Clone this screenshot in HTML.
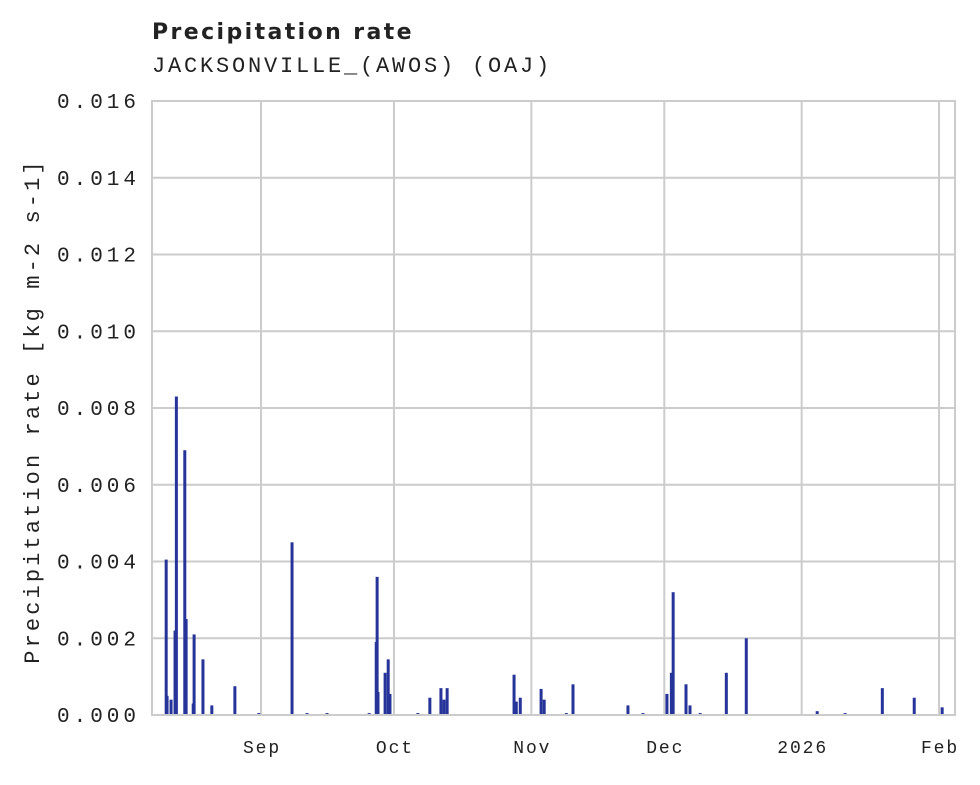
<!DOCTYPE html>
<html><head><meta charset="utf-8"><style>
body{margin:0;background:#fff;}
svg text{fill:#222;}
</style></head><body>
<svg id="chart" width="980" height="780" xmlns="http://www.w3.org/2000/svg">
<text x="152" y="39" font-family="DejaVu Sans, Liberation Sans, sans-serif" font-weight="bold" font-size="22" letter-spacing="2.4">Precipitation rate</text>
<text x="152" y="72" font-family="Liberation Mono, monospace" font-size="22" letter-spacing="2.8">JACKSONVILLE_(AWOS) (OAJ)</text>
<text transform="translate(39,411) rotate(-90)" text-anchor="middle" font-family="Liberation Mono, monospace" font-size="22" letter-spacing="3.1">Precipitation rate [kg m-2 s-1]</text>
<g id="grid"></g><g id="bars"></g><g id="ticks"></g>
<rect x="152" y="101" width="803" height="614" fill="none" stroke="#ccc" stroke-width="2"/>
</svg>
<script>
const xMin=-24.6, xMax=156.6, yMax=0.016;
const yTicks=[0,0.002,0.004,0.006,0.008,0.010,0.012,0.014,0.016];
const yTickLabels=["0.000","0.002","0.004","0.006","0.008","0.010","0.012","0.014","0.016"];
const xTicks=[0,30,61,91,122,153];
const xTickLabels=["Sep","Oct","Nov","Dec","2026","Feb"];
const days=[-21.4,-21.2,-20.3,-19.4,-19.1,-17.2,-16.9,-15.3,-15.1,-13.1,-11.1,-5.9,-0.5,7.0,10.4,14.9,24.4,26.0,26.2,26.4,28.0,28.7,29.1,35.4,38.1,40.6,41.3,42.0,57.1,57.6,58.5,63.2,63.9,68.9,70.4,82.8,86.2,91.6,92.6,93.0,95.9,96.8,99.1,105.0,109.5,125.5,131.8,140.2,147.4,153.7];
const rates=[0.00405,0.0005,0.0004,0.0022,0.0083,0.0069,0.0025,0.0003,0.0021,0.00145,0.00025,0.00075,0.00005,0.0045,0.00005,0.00005,0.00005,0.0019,0.0036,0.0006,0.0011,0.00145,0.00055,0.00005,0.00045,0.0007,0.0004,0.0007,0.00105,0.00035,0.00045,0.00068,0.0004,0.00005,0.0008,0.00025,0.00005,0.00055,0.0011,0.0032,0.0008,0.00025,0.00005,0.0011,0.002,0.0001,0.00005,0.0007,0.00045,0.0002];
const L=152,R=955,T=101,B=715;
const xs=d=>L+(d-xMin)/(xMax-xMin)*(R-L);
const ys=v=>B-v/yMax*(B-T);
const NS="http://www.w3.org/2000/svg";
const grid=document.getElementById('grid'),bars=document.getElementById('bars'),ticks=document.getElementById('ticks');
function mk(tag,attrs,parent){const e=document.createElementNS(NS,tag);for(const k in attrs)e.setAttribute(k,attrs[k]);parent.appendChild(e);return e;}
yTicks.forEach((v,i)=>{
 const g=mk('line',{x1:L,x2:R,y1:ys(v),y2:ys(v),stroke:'#ccc','stroke-width':2},grid);
 
 
 const t=mk('text',{x:57,y:ys(v)+7,'font-family':'Liberation Mono, monospace','font-size':21,'letter-spacing':4.0},ticks);
 t.textContent=yTickLabels[i];
 
 
});
xTicks.forEach((d,i)=>{
 const g=mk('line',{x1:xs(d),x2:xs(d),y1:T,y2:B,stroke:'#ccc','stroke-width':2},grid);
 
 
 const t=mk('text',{x:xs(d)+1,y:753,'text-anchor':'middle','font-family':'Liberation Mono, monospace','font-size':18,'letter-spacing':1.9},ticks);
 t.textContent=xTickLabels[i];
 
 
});
days.forEach((d,i)=>{
 const b=mk('rect',{x:xs(d)-1.5,y:ys(rates[i]),width:3,height:B-ys(rates[i]),fill:'#26349a'},bars);
 
 
});
</script>
</body></html>
